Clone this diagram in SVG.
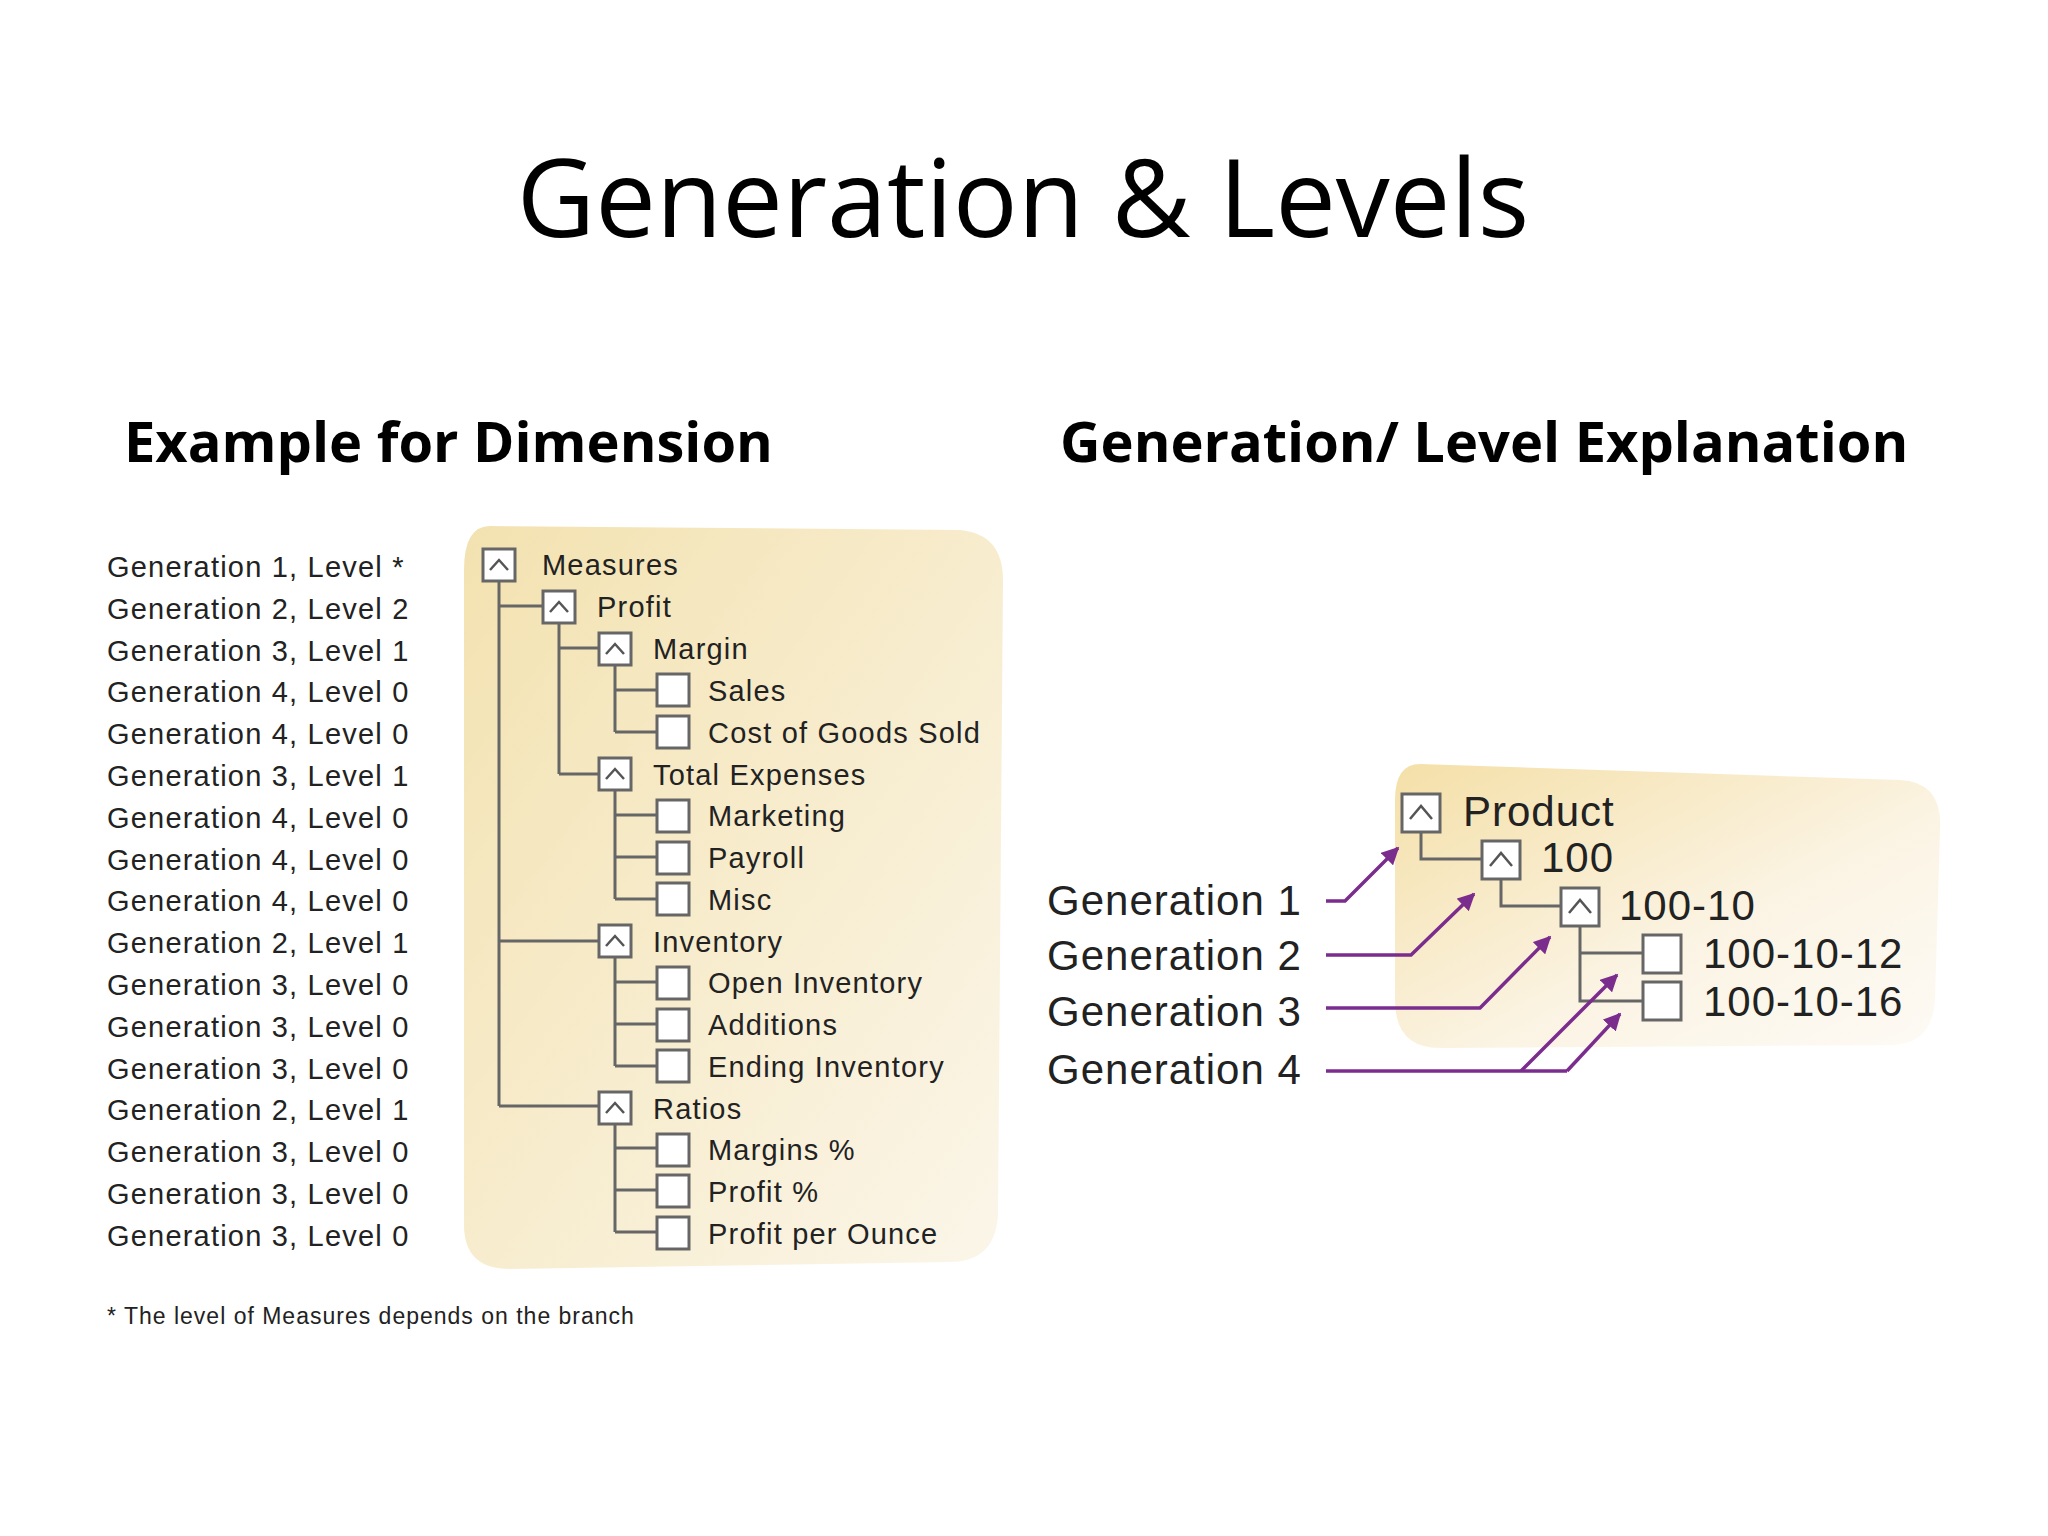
<svg xmlns="http://www.w3.org/2000/svg" width="2048" height="1536" viewBox="0 0 2048 1536">
<defs>
<linearGradient id="g1" x1="0" y1="0" x2="1" y2="1"><stop offset="0" stop-color="#f3e2b0"/><stop offset="1" stop-color="#fbf6ea"/></linearGradient>
<linearGradient id="g2" x1="0" y1="0" x2="1" y2="1"><stop offset="0" stop-color="#f3dc9e"/><stop offset="0.6" stop-color="#fbf3e2"/><stop offset="1" stop-color="#fdfaf4"/></linearGradient>
<marker id="ah" viewBox="0 0 10 10" refX="9" refY="5" markerWidth="5" markerHeight="5" orient="auto"><path d="M0,0 L10,5 L0,10 z" fill="#7b2d8e"/></marker>
<g id="bx"><rect x="0" y="0" width="32" height="32" fill="#fff" stroke="#666" stroke-width="3"/></g>
<g id="bxu"><rect x="0" y="0" width="32" height="32" fill="#fff" stroke="#666" stroke-width="3"/><path d="M7,21 L16,11 L25,21" fill="none" stroke="#555" stroke-width="2.5"/></g>
</defs>
<style>
.t{font-family:"Liberation Sans",Arial,sans-serif;fill:#222}
.lab{font-size:29px;letter-spacing:1.2px}
.ln{stroke:#666;stroke-width:3;fill:none}
.ar{stroke:#7b2d8e;stroke-width:3.5;fill:none}
.big{font-size:42px;letter-spacing:1px}
</style>
<rect width="2048" height="1536" fill="#fff"/>
<text x="1023" y="237" text-anchor="middle" font-family="'Open Sans',sans-serif" font-size="108" fill="#000">Generation &amp; Levels</text>
<text x="124" y="462" font-family="'Open Sans',sans-serif" font-weight="bold" font-size="56" fill="#000">Example for Dimension</text>
<text x="1060" y="462" font-family="'Open Sans',sans-serif" font-weight="bold" font-size="56" fill="#000">Generation/ Level Explanation</text>

<path d="M490,526 L960,530 Q1003,534 1003,580 L998,1215 Q995,1262 950,1262 L510,1269 Q464,1269 464,1225 L464,570 Q464,526 490,526 z" fill="url(#g1)"/>
<path d="M1420,764 L1900,780 Q1943,782 1940,830 L1935,1000 Q1932,1045 1890,1045 L1440,1048 Q1395,1048 1395,1000 L1395,800 Q1395,764 1420,764 z" fill="url(#g2)" opacity="0.9"/>

<g id="left-labels" class="t lab">
<text x="107" y="577">Generation 1, Level *</text>
<text x="107" y="619">Generation 2, Level 2</text>
<text x="107" y="661">Generation 3, Level 1</text>
<text x="107" y="702">Generation 4, Level 0</text>
<text x="107" y="744">Generation 4, Level 0</text>
<text x="107" y="786">Generation 3, Level 1</text>
<text x="107" y="828">Generation 4, Level 0</text>
<text x="107" y="870">Generation 4, Level 0</text>
<text x="107" y="911">Generation 4, Level 0</text>
<text x="107" y="953">Generation 2, Level 1</text>
<text x="107" y="995">Generation 3, Level 0</text>
<text x="107" y="1037">Generation 3, Level 0</text>
<text x="107" y="1079">Generation 3, Level 0</text>
<text x="107" y="1120">Generation 2, Level 1</text>
<text x="107" y="1162">Generation 3, Level 0</text>
<text x="107" y="1204">Generation 3, Level 0</text>
<text x="107" y="1246">Generation 3, Level 0</text>
</g>

<g id="connectors">
<path class="ln" d="M499,581 V1106 M499,606 H543 M499,941 H599 M499,1106 H599"/>
<path class="ln" d="M559,623 V774 M559,648 H599 M559,774 H599"/>
<path class="ln" d="M615,665 V732 M615,690 H657 M615,732 H657"/>
<path class="ln" d="M615,790 V899 M615,815 H657 M615,857 H657 M615,899 H657"/>
<path class="ln" d="M615,957 V1066 M615,982 H657 M615,1024 H657 M615,1066 H657"/>
<path class="ln" d="M615,1122 V1232 M615,1148 H657 M615,1190 H657 M615,1232 H657"/>
<path class="ln" d="M1421,832 V859 H1482 M1501,879 V906 H1561 M1580,926 V1001 H1643 M1580,953 H1643"/>
<path class="ar" marker-end="url(#ah)" d="M1326,901 H1345 L1398,848"/>
<path class="ar" marker-end="url(#ah)" d="M1326,955 H1411 L1474,894"/>
<path class="ar" marker-end="url(#ah)" d="M1326,1008 H1480 L1550,937"/>
<path class="ar" d="M1326,1071 H1567"/>
<path class="ar" marker-end="url(#ah)" d="M1521,1071 L1617,975"/>
<path class="ar" marker-end="url(#ah)" d="M1567,1071 L1620,1014"/>
</g>

<g id="tree" class="t lab">
<g id="n-measures"><use href="#bxu" x="483" y="549"/><text x="542" y="575">Measures</text></g>
<g id="n-profit"><use href="#bxu" x="543" y="591"/><text x="597" y="617">Profit</text></g>
<g id="n-margin"><use href="#bxu" x="599" y="633"/><text x="653" y="659">Margin</text></g>
<g id="n-sales"><use href="#bx" x="657" y="674"/><text x="708" y="701">Sales</text></g>
<g id="n-cogs"><use href="#bx" x="657" y="716"/><text x="708" y="743">Cost of Goods Sold</text></g>
<g id="n-totexp"><use href="#bxu" x="599" y="758"/><text x="653" y="785">Total Expenses</text></g>
<g id="n-marketing"><use href="#bx" x="657" y="800"/><text x="708" y="826">Marketing</text></g>
<g id="n-payroll"><use href="#bx" x="657" y="842"/><text x="708" y="868">Payroll</text></g>
<g id="n-misc"><use href="#bx" x="657" y="883"/><text x="708" y="910">Misc</text></g>
<g id="n-inventory"><use href="#bxu" x="599" y="925"/><text x="653" y="952">Inventory</text></g>
<g id="n-openinv"><use href="#bx" x="657" y="967"/><text x="708" y="993">Open Inventory</text></g>
<g id="n-additions"><use href="#bx" x="657" y="1009"/><text x="708" y="1035">Additions</text></g>
<g id="n-endinv"><use href="#bx" x="657" y="1050"/><text x="708" y="1077">Ending Inventory</text></g>
<g id="n-ratios"><use href="#bxu" x="599" y="1092"/><text x="653" y="1119">Ratios</text></g>
<g id="n-marginspct"><use href="#bx" x="657" y="1134"/><text x="708" y="1160">Margins %</text></g>
<g id="n-profitpct"><use href="#bx" x="657" y="1175"/><text x="708" y="1202">Profit %</text></g>
<g id="n-ppo"><use href="#bx" x="657" y="1217"/><text x="708" y="1244">Profit per Ounce</text></g>
</g>
<text x="107" y="1324" class="t" font-size="23" letter-spacing="1">* The level of Measures depends on the branch</text>

<g id="right-tree" class="t big">
<g id="n-product"><rect x="1402" y="794" width="38" height="38" fill="#fff" stroke="#666" stroke-width="3"/><path d="M1410,819 L1421,806 L1432,819" fill="none" stroke="#555" stroke-width="2.5"/><text x="1463" y="826">Product</text></g>
<g id="n-100"><rect x="1482" y="841" width="38" height="38" fill="#fff" stroke="#666" stroke-width="3"/><path d="M1490,866 L1501,853 L1512,866" fill="none" stroke="#555" stroke-width="2.5"/><text x="1541" y="872">100</text></g>
<g id="n-100-10"><rect x="1561" y="888" width="38" height="38" fill="#fff" stroke="#666" stroke-width="3"/><path d="M1569,913 L1580,900 L1591,913" fill="none" stroke="#555" stroke-width="2.5"/><text x="1619" y="920">100-10</text></g>
<g id="n-100-10-12"><rect x="1643" y="935" width="38" height="38" fill="#fff" stroke="#666" stroke-width="3"/><text x="1703" y="968">100-10-12</text></g>
<g id="n-100-10-16"><rect x="1643" y="982" width="38" height="38" fill="#fff" stroke="#666" stroke-width="3"/><text x="1703" y="1016">100-10-16</text></g>
</g>
<g id="gen-labels" class="t big">
<text x="1047" y="915">Generation 1</text>
<text x="1047" y="970">Generation 2</text>
<text x="1047" y="1026">Generation 3</text>
<text x="1047" y="1084">Generation 4</text>
</g>
</svg>
